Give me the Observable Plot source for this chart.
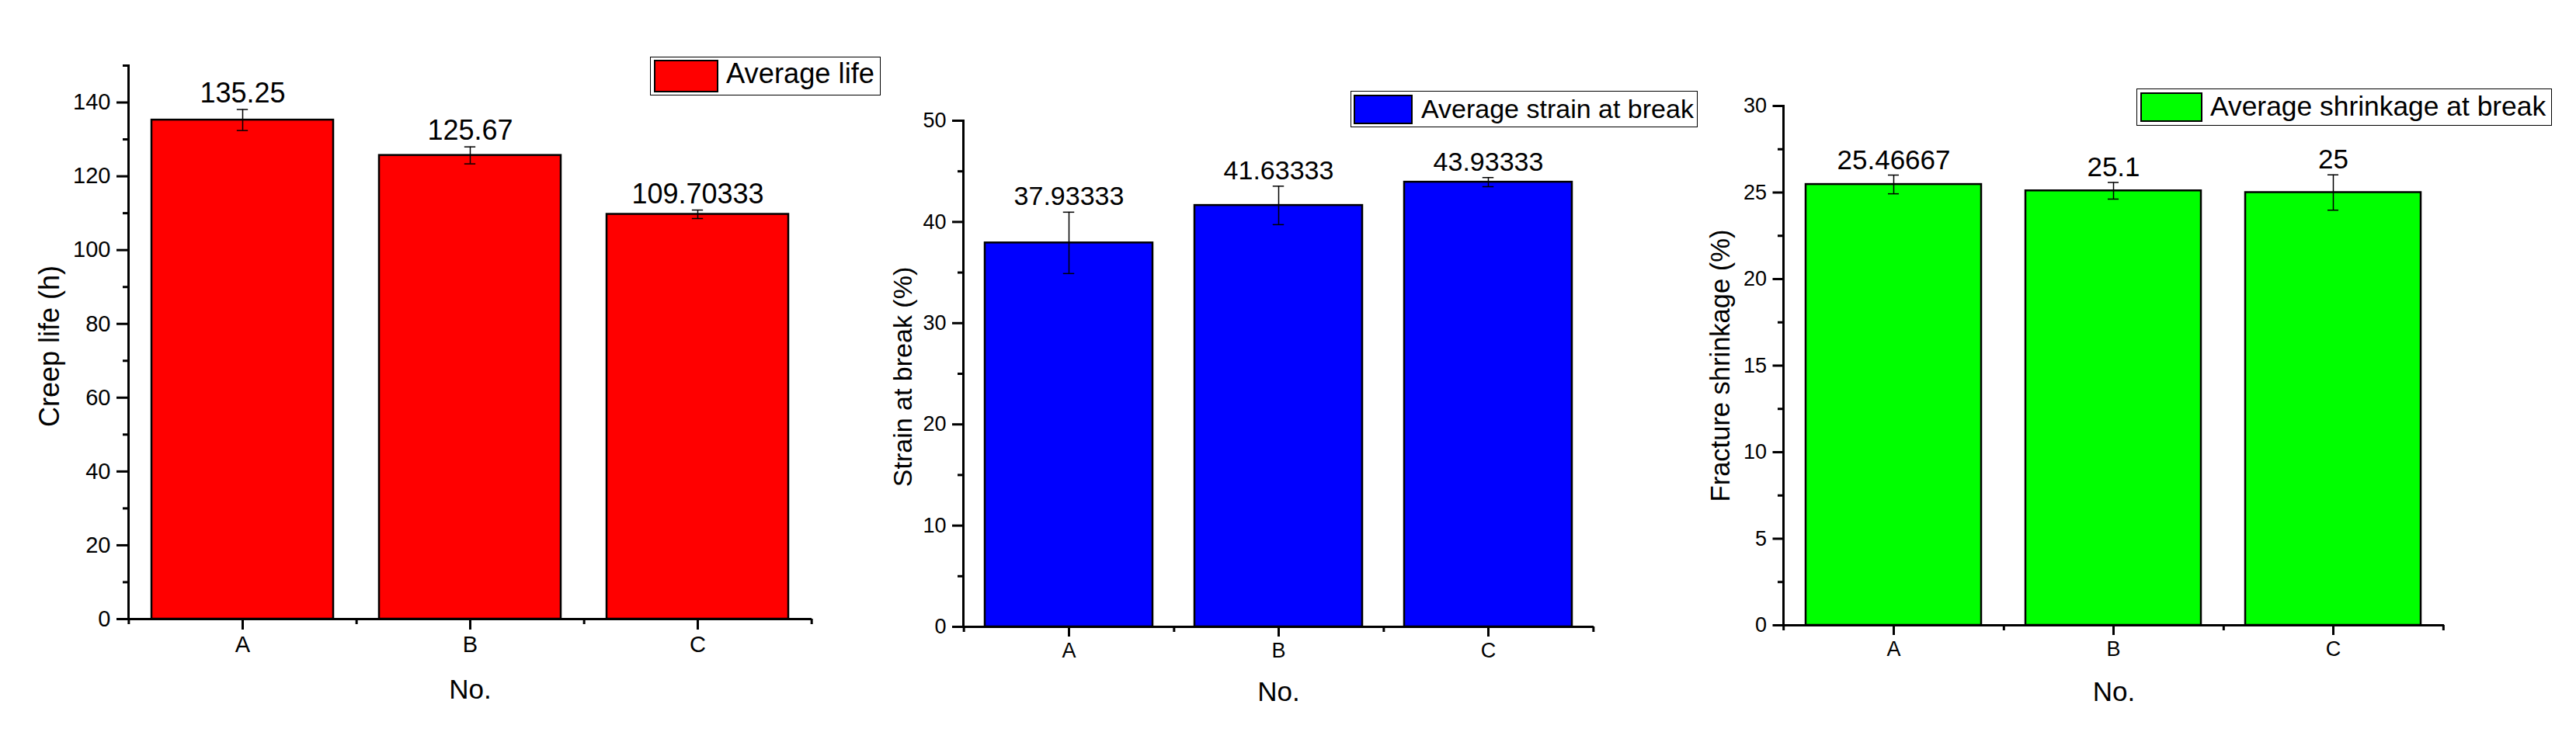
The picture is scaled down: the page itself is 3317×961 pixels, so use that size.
<!DOCTYPE html>
<html><head><meta charset="utf-8">
<script src="https://cdn.jsdelivr.net/npm/d3@7"></script>
<script src="https://cdn.jsdelivr.net/npm/@observablehq/plot@0.6"></script>
<style>
html,body{margin:0;padding:0;background:#fff;}
#root{position:relative;width:3317px;height:961px;overflow:hidden;background:#fff;font-family:"Liberation Sans",Arial,sans-serif;}
.panel{position:absolute;top:0;}
.panel svg{overflow:visible;}
.legend-box{position:absolute;border:1.3px solid #000;box-sizing:border-box;background:#fff;}
.legend-swatch{position:absolute;border:2px solid #000;box-sizing:border-box;}
.legend-text{position:absolute;line-height:1;white-space:nowrap;color:#000;}
</style></head>
<body><div id="root"></div>
<script>
const categories = ["A", "B", "C"];
const lifeMean = [135.25, 125.67, 109.70333];
const lifeErr = [2.85, 2.3, 1.15];
const strainMean = [37.93333, 41.63333, 43.93333];
const strainErr = [3.03, 1.9, 0.45];
const shrinkMean = [25.46667, 25.1, 25];
const shrinkErr = [0.54, 0.48, 1.02];
const lifeTicks = [0, 20, 40, 60, 80, 100, 120, 140];
const lifeMinor = [10, 30, 50, 70, 90, 110, 130, 150];
const strainTicks = [0, 10, 20, 30, 40, 50];
const strainMinor = [5, 15, 25, 35, 45];
const shrinkTicks = [0, 5, 10, 15, 20, 25, 30];
const shrinkMinor = [2.5, 7.5, 12.5, 17.5, 22.5, 27.5];
const xTitle = "No.";
const yTitles = ["Creep life (h)", "Strain at break (%)", "Fracture shrinkage (%)"];
const legendLabels = ["Average life", "Average strain at break", "Average shrinkage at break"];
const colors = ["#ff0000", "#0000ff", "#00ff00"];

const FONT = "'Liberation Sans', Arial, sans-serif";

const panels = [
  {mean: lifeMean, err: lifeErr, ticks: lifeTicks, minor: lifeMinor, yMax: 150,
   left: 0, width: 1100, ml: 165, mr: 55, mt: 84, mb: 164,
   tickFont: 29, valFont: 36, titleFont: 36, yTitleDx: -101, yTitleDy: 5, xTitleDy: 91,
   xTickSize: 14, xTickPad: 8, yTickSize: 15, yTickPad: 8, valDy: -9,
   legend: {box: [837, 73, 297, 50], sw: [842, 77, 83, 42], tx: 935, base: 107.3, fs: 36.3}},
  {mean: strainMean, err: strainErr, ticks: strainTicks, minor: strainMinor, yMax: 50,
   left: 1100, width: 1100, ml: 140, mr: 148, mt: 155, mb: 154,
   tickFont: 27, valFont: 34, titleFont: 34, yTitleDx: -77, yTitleDy: 4, xTitleDy: 84,
   xTickSize: 13, xTickPad: 7, yTickSize: 14, yTickPad: 8, valDy: -9,
   legend: {box: [1739, 117, 447, 47], sw: [1743, 122, 76, 38], tx: 1830, base: 151.7, fs: 34}},
  {mean: shrinkMean, err: shrinkErr, ticks: shrinkTicks, minor: shrinkMinor, yMax: 30,
   left: 2200, width: 1117, ml: 96, mr: 170, mt: 136, mb: 156,
   tickFont: 27, valFont: 35, titleFont: 34.5, yTitleDx: -81, yTitleDy: 0, xTitleDy: 86.5,
   xTickSize: 13, xTickPad: 7, yTickSize: 13.5, yTickPad: 8, valDy: -8,
   legend: {box: [2751, 114, 535, 48], sw: [2756, 119, 80, 38], tx: 2846, base: 150, fs: 35.4}}
];

const root = document.getElementById("root");
const H = 961;

panels.forEach((p, k) => {
  const data = categories.map((c, i) => ({cat: c, v: p.mean[i], e: p.err[i], label: String(p.mean[i])}));
  const plotW = p.width - p.ml - p.mr;
  const step = plotW / categories.length;
  const bandW = step * 0.8;
  const capW = 15;
  const capInset = (bandW - capW) / 2;

  const chart = Plot.plot({
    width: p.width, height: H,
    marginLeft: p.ml, marginRight: p.mr, marginTop: p.mt, marginBottom: p.mb,
    style: {fontFamily: FONT, background: "transparent", overflow: "visible"},
    x: {domain: categories, paddingInner: 0.2, paddingOuter: 0.1},
    y: {domain: [0, p.yMax]},
    marks: [
      Plot.barY(data, {x: "cat", y: "v", fill: colors[k], stroke: "#000", strokeWidth: 2.5}),
      Plot.ruleX(data, {x: "cat", y1: d => d.v - d.e, y2: d => d.v + d.e, stroke: "#000", strokeWidth: 1.5}),
      Plot.tickY(data, {x: "cat", y: d => d.v + d.e, insetLeft: capInset, insetRight: capInset, stroke: "#000", strokeWidth: 1.5}),
      Plot.tickY(data, {x: "cat", y: d => d.v - d.e, insetLeft: capInset, insetRight: capInset, stroke: "#000", strokeWidth: 1.5}),
      Plot.text(data, {x: "cat", y: d => d.v + d.e, text: "label", lineAnchor: "bottom", dy: p.valDy, fontSize: p.valFont, fill: "#000", fontFamily: FONT}),
      Plot.ruleY([0], {stroke: "#000", strokeWidth: 3}),
      Plot.frame({anchor: "left", stroke: "#000", strokeWidth: 3}),
      Plot.axisY({ticks: p.ticks, tickSize: p.yTickSize, tickPadding: p.yTickPad, fontSize: p.tickFont, strokeWidth: 3, label: null, tickFormat: d => String(d), fill: "#000", fontFamily: FONT}),
      Plot.axisY({ticks: p.minor, tickSize: 7, tickFormat: () => "", label: null, strokeWidth: 3}),
      Plot.axisX({tickSize: p.xTickSize, tickPadding: p.xTickPad, fontSize: p.tickFont, strokeWidth: 3, label: null, fill: "#000", fontFamily: FONT}),
      Plot.axisX({ticks: categories, tickSize: 7, tickFormat: () => "", label: null, strokeWidth: 3, dx: step / 2}),
      Plot.axisX({ticks: [categories[0]], tickSize: 7, tickFormat: () => "", label: null, strokeWidth: 3, dx: -step / 2}),
      Plot.text([yTitles[k]], {text: d => d, frameAnchor: "left", textAnchor: "middle", lineAnchor: "middle", rotate: -90, dx: p.yTitleDx, dy: p.yTitleDy, fontSize: p.titleFont, fill: "#000", fontFamily: FONT}),
      Plot.text([xTitle], {text: d => d, frameAnchor: "bottom", textAnchor: "middle", lineAnchor: "middle", dy: p.xTitleDy, fontSize: 35, fill: "#000", fontFamily: FONT})
    ]
  });
  const wrap = document.createElement("div");
  wrap.className = "panel";
  wrap.style.left = p.left + "px";
  wrap.appendChild(chart);
  root.appendChild(wrap);

  // legend
  const L = p.legend;
  const box = document.createElement("div");
  box.className = "legend-box";
  Object.assign(box.style, {left: L.box[0] + "px", top: L.box[1] + "px", width: L.box[2] + "px", height: L.box[3] + "px"});
  root.appendChild(box);
  const sw = document.createElement("div");
  sw.className = "legend-swatch";
  Object.assign(sw.style, {left: L.sw[0] + "px", top: L.sw[1] + "px", width: L.sw[2] + "px", height: L.sw[3] + "px", background: colors[k]});
  root.appendChild(sw);
  const tx = document.createElement("div");
  tx.className = "legend-text";
  tx.textContent = legendLabels[k];
  Object.assign(tx.style, {left: L.tx + "px", top: (L.base - 0.8465 * L.fs) + "px", fontSize: L.fs + "px"});
  root.appendChild(tx);
});
</script>
</body></html>
